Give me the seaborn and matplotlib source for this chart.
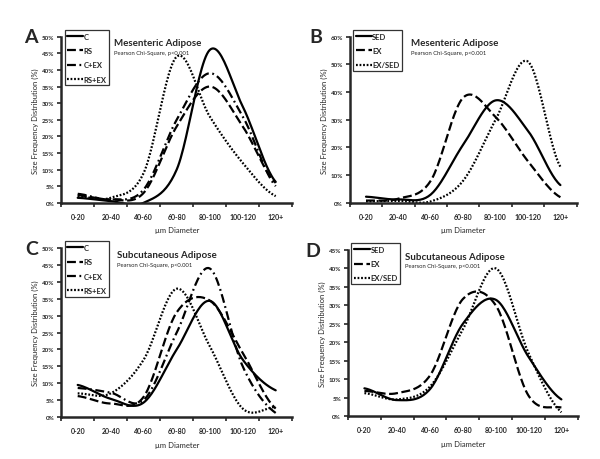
import numpy as np
import pandas as pd
import matplotlib
matplotlib.use('Agg')
import matplotlib.pyplot as plt
import seaborn as sns
from matplotlib.ticker import FuncFormatter

# category labels on the x axis
bins = ['0-20', '20-40', '40-60', '60-80', '80-100', '100-120', '120+']

# panel A - mesenteric adipose (diet x exercise groups)
a_c = [1.5, 0.5, 0.0, 10, 46, 29, 6.3]
a_rs = [2.3, 1.0, 3.0, 23, 35, 23, 6.0]
a_cex = [2.7, 1.0, 4.0, 25, 39, 26, 5.0]
a_rsex = [2.0, 1.5, 9, 44, 26, 12, 2.0]

# panel B - mesenteric adipose
b_sed = [2.2, 1.2, 3.0, 21, 37, 26, 6.4]
b_ex = [0.8, 1.5, 8.0, 38, 31, 15, 2.0]
b_exsed = [0.5, 0.7, 0.5, 8, 30, 51, 13]

# panel C - subcutaneous adipose
c_c = [9.5, 5.4, 4.3, 20, 34.4, 17, 7.9]
c_rs = [6.2, 4.0, 6.0, 31, 34.5, 19, 2.5]
c_cex = [8.6, 7.2, 5.0, 25, 44, 15, 1.2]
c_rsex = [7.0, 7.0, 17, 38, 21, 2.5, 3.0]

# panel D - subcutaneous adipose
d_sed = [7.5, 4.3, 7.3, 25, 31.5, 16, 4.5]
d_ex = [6.8, 6.2, 11, 31.7, 30, 5.5, 2.3]
d_exsed = [6.2, 4.5, 8.0, 23.5, 40, 17, 1.0]

STYLES = {
    'solid': dict(linestyle='-'),
    'dash': dict(linestyle=(0, (4, 1.6))),
    'dashdot': dict(linestyle=(0, (4, 1.6, 0.8, 1.6))),
    'dot': dict(linestyle=(0, (0.8, 0.8))),
}


def smoothLine(vals, n=25):
    # Excel style smoothed line (Catmull-Rom through the category points)
    p = np.concatenate([[vals[0]], np.asarray(vals, float), [vals[-1]]])
    xs, ys = [], []
    for i in range(len(vals) - 1):
        p0, p1, p2, p3 = p[i], p[i + 1], p[i + 2], p[i + 3]
        t = np.linspace(0, 1, n, endpoint=False)
        y = 0.5 * (2 * p1 + (-p0 + p2) * t + (2 * p0 - 5 * p1 + 4 * p2 - p3) * t ** 2
                   + (-p0 + 3 * p1 - 3 * p2 + p3) * t ** 3)
        xs.append(i + t)
        ys.append(y)
    xs.append([len(vals) - 1])
    ys.append([vals[-1]])
    return np.concatenate(xs), np.concatenate(ys)


def drawPanel(fig, rect, letter, letter_x, title, series, ymax, ystep, title_x):
    ax = fig.add_axes(rect)
    for label, vals, style in series:
        x, y = smoothLine(vals)
        df = pd.DataFrame({'x': x, 'y': y})
        sns.lineplot(data=df, x='x', y='y', ax=ax, color='black', lw=1.6,
                     label=label, **STYLES[style])
    ax.set_xlim(-0.5, 6.5)
    ax.set_ylim(0, ymax)
    ax.set_xticks(np.arange(-0.5, 7, 1))
    ax.set_xticklabels([])
    ax.set_xticks(range(7), minor=True)
    ax.set_xticklabels(bins, minor=True, fontsize=5, fontweight='bold')
    ax.tick_params(axis='x', which='minor', length=0, pad=7)
    ax.tick_params(axis='x', which='major', length=3, width=1.2, direction='out')
    ax.set_yticks(np.arange(0, ymax + 0.01, ystep))
    ax.yaxis.set_major_formatter(FuncFormatter(lambda v, p: '%d%%' % round(v)))
    ax.tick_params(axis='y', labelsize=4.5, length=3, width=1.2, pad=2)
    for lab in ax.get_yticklabels():
        lab.set_fontweight('bold')
    for s in ['left', 'bottom']:
        ax.spines[s].set_linewidth(1.8)
    sns.despine(ax=ax)
    ax.set_xlabel('µm Diameter', fontsize=5.5, labelpad=5)
    ax.set_ylabel('Size Frequency Distribution (%)', fontsize=5.5, labelpad=2)
    ax.text(letter_x, 1.05, letter, transform=ax.transAxes, fontsize=14,
            fontweight='bold', va='top', ha='right')
    ax.text(title_x, 0.99, title, transform=ax.transAxes, fontsize=7,
            fontweight='bold', va='top')
    ax.text(title_x, 0.92, 'Pearson Chi-Square, p<0.001', transform=ax.transAxes,
            fontsize=4.2, va='top')
    leg = ax.legend(loc='upper left', bbox_to_anchor=(0.015, 1.04), frameon=True,
                    fancybox=False, edgecolor='black', fontsize=5.5,
                    handlelength=2.1, handletextpad=0.05, borderpad=0.35,
                    labelspacing=0.95, borderaxespad=0)
    leg.get_frame().set_linewidth(0.9)
    for t in leg.get_texts():
        t.set_fontweight('bold')
    return ax


sns.set_style('ticks')
plt.rcParams['font.family'] = ['Lato', 'DejaVu Sans']

fig = plt.figure(figsize=(6, 4.6), dpi=100)

drawPanel(fig, [0.102, 0.557, 0.385, 0.361], 'A', -0.1, 'Mesenteric Adipose',
          [('C', a_c, 'solid'), ('RS', a_rs, 'dash'), ('C+EX', a_cex, 'dashdot'),
           ('RS+EX', a_rsex, 'dot')], 50, 5, 0.23)
drawPanel(fig, [0.583, 0.557, 0.378, 0.361], 'B', -0.12, 'Mesenteric Adipose',
          [('SED', b_sed, 'solid'), ('EX', b_ex, 'dash'), ('EX/SED', b_exsed, 'dot')],
          60, 10, 0.27)
drawPanel(fig, [0.102, 0.0913, 0.385, 0.367], 'C', -0.1, 'Subcutaneous Adipose',
          [('C', c_c, 'solid'), ('RS', c_rs, 'dash'), ('C+EX', c_cex, 'dashdot'),
           ('RS+EX', c_rsex, 'dot')], 50, 5, 0.24)
drawPanel(fig, [0.58, 0.0935, 0.383, 0.361], 'D', -0.12, 'Subcutaneous Adipose',
          [('SED', d_sed, 'solid'), ('EX', d_ex, 'dash'), ('EX/SED', d_exsed, 'dot')],
          45, 5, 0.25)

fig.savefig('out.png', dpi=100)
